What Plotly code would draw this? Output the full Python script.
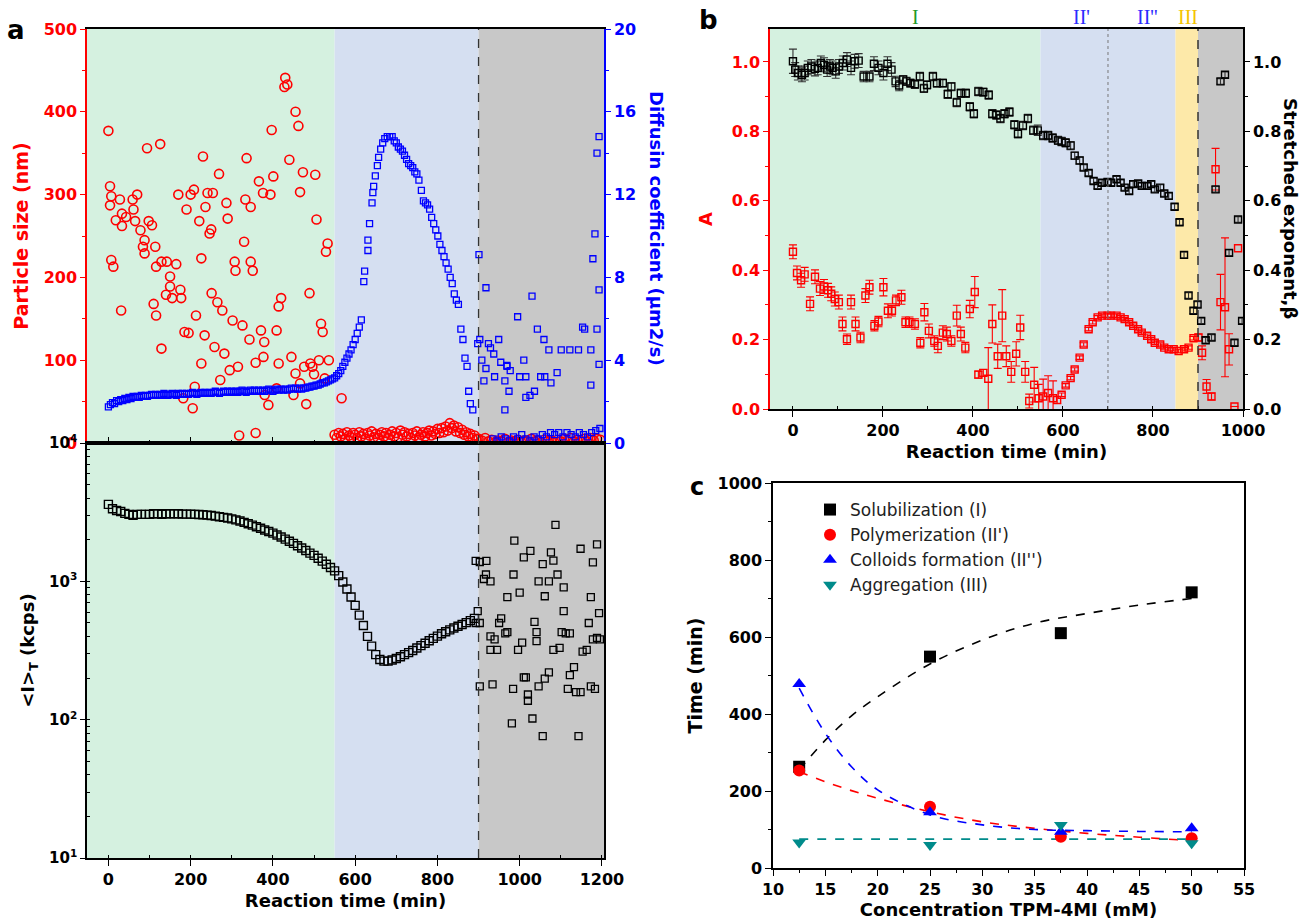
import numpy as np
import plotly.graph_objects as go

W, H = 1311, 922
FONT = "DejaVu Sans"
RED, BLUE = "#ff0000", "#0000ff"

# ---------------- Panel a (top): particle size (nm) ----------------
PS_T = [0, 4, 7, 4, 28, 33, 18, 43, 33, 7, 12, 31, 59, 61, 70, 65, 78, 84, 88, 94, 98, 106, 88, 114, 126, 116, 129, 142,
        165, 150, 150, 140, 155, 175, 177, 110, 116, 129, 170, 190, 185, 195, 182, 205, 208, 221, 226, 213, 230, 236, 241,
        254, 246, 251, 265, 269, 277, 226, 234, 258, 272, 282, 287, 290, 295, 302, 307, 309, 315, 318, 326, 330, 336, 333,
        343, 346, 351, 346, 358, 358, 366, 371, 376, 377, 379, 394, 397, 401, 389, 409, 414, 420, 414, 409, 430, 435, 428,
        455, 462, 440, 466, 473, 503, 506, 445, 455, 466, 481, 476, 491, 496, 512, 489, 517, 521, 529, 533, 536, 526, 450,
        567, 210, 380, 500, 250, 200]
PS_V = [377, 310, 298, 287, 294, 277, 269, 273, 262, 221, 213, 160, 294, 282, 300, 268, 257, 237, 245, 356, 268, 263, 229,
        237, 361, 213, 219, 219, 216, 201, 189, 179, 175, 185, 175, 168, 154, 114, 300, 282, 134, 133, 54, 42, 306, 268,
        223, 154, 346, 285, 302, 302, 253, 181, 170, 325, 160, 96, 130, 116, 76, 108, 290, 271, 88, 148, 219, 208, 92, 9,
        142, 243, 344, 294, 125, 219, 208, 285, 97, 12, 316, 136, 302, 104, 122, 300, 378, 322, 46, 136, 165, 175, 96, 66,
        441, 433, 430, 400, 383, 342, 303, 327, 324, 270, 104, 84, 72, 47, 92, 96, 92, 100, 181, 144, 134, 231, 241, 100,
        78, 58, 54, 68, 58, 83, 258, 300]
PS2_T = np.arange(550, 900, 5)
PS2_V = [10, 6, 12, 8, 11, 5, 13, 9, 7, 12, 10, 6, 13, 8, 11, 5, 12, 9, 14, 7, 11, 6, 10, 13, 8, 12, 6, 10, 14, 8, 12, 7,
         15, 10, 13, 8, 11, 6, 12, 9, 14, 7, 10, 13, 8, 12, 15, 9, 14, 11, 17, 12, 18, 13, 20, 15, 24, 18, 21, 14, 19, 12,
         16, 10, 13, 8, 11, 6, 9, 5]
PS3_T = np.arange(900, 1200, 8)
PS3_V = [5, 3, 6, 2, 4, 1, 3, 2, 5, 1, 3, 2, 4, 1, 3, 2, 5, 2, 3, 1, 4, 2, 3, 1, 4, 2, 5, 3, 6, 2, 4, 3, 5, 2, 6, 3, 5, 4]

# ---------------- Panel a (top): diffusion coefficient ----------------
D1_T = np.arange(0, 550, 5)
D1_V = [1.75, 1.85, 1.95, 1.9, 2.05, 2.0, 2.1, 2.05, 2.15, 2.1, 2.2, 2.15, 2.25, 2.2, 2.25, 2.2, 2.3, 2.25, 2.3, 2.25,
        2.3, 2.35, 2.3, 2.35, 2.3, 2.35, 2.3, 2.4, 2.35, 2.3, 2.35, 2.4, 2.35, 2.3, 2.4, 2.35, 2.4, 2.35, 2.4, 2.35,
        2.4, 2.45, 2.4, 2.35, 2.4, 2.45, 2.4, 2.45, 2.4, 2.45, 2.4, 2.45, 2.5, 2.45, 2.4, 2.45, 2.5, 2.45, 2.5, 2.45,
        2.5, 2.45, 2.5, 2.45, 2.5, 2.55, 2.5, 2.45, 2.5, 2.55, 2.5, 2.55, 2.5, 2.55, 2.5, 2.55, 2.5, 2.55, 2.6, 2.55,
        2.5, 2.55, 2.6, 2.55, 2.6, 2.55, 2.6, 2.55, 2.6, 2.65, 2.6, 2.65, 2.6, 2.65, 2.6, 2.65, 2.65, 2.7, 2.7, 2.75,
        2.75, 2.8, 2.8, 2.85, 2.9, 2.9, 2.95, 3.0, 3.05, 3.1]
D2_T = [550, 555, 560, 565, 570, 575, 580, 585, 590, 595, 600, 605, 610, 615,
        621, 623, 631, 631, 635, 641, 643, 645, 649, 654, 657, 662, 667, 672, 678, 684, 690, 695, 700, 705, 710, 715,
        720, 725, 730, 735, 740, 745, 750, 755, 761, 766, 771, 776, 781, 786, 791, 796, 801, 806, 811, 816, 821, 826,
        831, 836, 841, 846, 851, 857, 862, 867, 872, 876, 880, 886]
D2_V = [3.15, 3.25, 3.35, 3.5, 3.7, 3.9, 4.1, 4.3, 4.5, 4.75, 5.0, 5.3, 5.6, 5.95,
        7.8, 8.3, 9.3, 9.8, 10.6, 11.6, 12.1, 12.4, 12.9, 13.4, 13.8, 14.2, 14.5, 14.7, 14.8, 14.8, 14.8, 14.6, 14.5,
        14.3, 14.2, 14.1, 13.9, 13.7, 13.5, 13.4, 13.3, 13.1, 13.0, 12.7, 12.2, 11.7, 11.6, 11.5, 11.3, 10.9, 10.6,
        10.3, 10.0, 9.6, 9.3, 9.0, 8.7, 8.4, 8.0, 7.7, 7.2, 6.9, 6.7, 5.5, 5.0, 4.1, 3.7, 2.5, 1.9, 1.6]
D3_T = [901, 918, 995, 1030, 1043, 1059, 1071, 1178, 1183, 1188, 1188, 1193, 1193, 898, 903, 924, 929, 937, 949, 954,
        969, 977, 918, 913, 939, 964, 974, 964, 1010, 1000, 1015, 1015, 1025, 1036, 1051, 1061, 1076, 1091, 1101, 1122,
        1143, 1153, 1158, 1173, 1173, 1193, 908, 969]
D3_V = [9.1, 7.5, 6.1, 7.1, 5.5, 5.0, 4.5, 8.9, 10.1, 5.5, 14.0, 14.8, 7.4, 4.8, 5.0, 4.8, 4.6, 4.3, 5.0, 3.9, 3.7,
        3.5, 3.6, 3.0, 3.2, 3.0, 2.5, 1.6, 4.0, 3.2, 3.2, 2.2, 2.3, 2.5, 3.2, 3.2, 2.9, 3.4, 4.5, 4.5, 4.5, 5.6, 5.5,
        4.5, 2.8, 3.8, 4.0, 3.75]
D4_T = np.arange(935, 1200, 10)
D4_V = [0.2, 0.1, 0.3, 0.2, 0.1, 0.3, 0.2, 0.4, 0.2, 0.1, 0.3, 0.2, 0.4, 0.3, 0.5, 0.4, 0.5, 0.3, 0.5, 0.4, 0.3, 0.5,
        0.4, 0.3, 0.5, 0.6, 0.7]

# ---------------- Panel a (bottom): <I>_T (kcps) ----------------
I1_T = np.arange(0, 900, 10)
I1_V = [3600, 3350, 3250, 3200, 3100, 3050, 3000, 3050, 3050, 3050, 3050, 3080, 3080, 3050, 3080, 3080, 3080, 3080,
        3060, 3060, 3060, 3050, 3040, 3030, 3010, 2990, 2960, 2930, 2900, 2870, 2830, 2780, 2730, 2670, 2610, 2550,
        2480, 2420, 2350, 2290, 2230, 2160, 2090, 2020, 1950, 1880, 1810, 1740, 1670, 1600, 1540, 1470, 1400, 1330,
        1260, 1190, 1100, 990, 880, 770, 670, 570, 480, 400, 340, 295, 272, 265, 265, 270, 277, 285, 295, 305, 316,
        330, 343, 357, 372, 387, 402, 418, 432, 446, 460, 474, 488, 503, 520, 540]
I2_T = [893, 903, 919, 913, 929, 918, 898, 893, 903, 929, 939, 929, 945, 950, 955, 965, 970, 903, 934, 987, 985, 970,
        1000, 1010, 1026, 996, 1006, 1010, 1015, 1020, 1020, 984, 981, 1031, 1036, 1041, 1041, 1046, 1056, 1061, 1061,
        1046, 1056, 1071, 1071, 1076, 1082, 1087, 1092, 1082, 1097, 1107, 1102, 1107, 1112, 1122, 1117, 1122, 1132,
        1137, 1148, 1148, 1143, 1153, 1163, 1168, 1173, 1178, 1173, 1183, 1188, 1188, 1193, 1195, 1178]
I2_V = [1407, 1380, 1407, 1040, 1000, 1120, 610, 500, 500, 400, 380, 320, 320, 500, 540, 420, 430, 174, 180, 1970,
        1120, 770, 830, 1490, 1660, 320, 360, 202, 202, 152, 137, 167, 94, 102, 510, 430, 370, 1000, 1330, 780, 198,
        174, 76, 220, 1000, 1620, 1410, 2560, 1120, 320, 330, 610, 430, 905, 420, 420, 167, 210, 240, 158, 158, 1720,
        76, 310, 320, 500, 770, 1370, 174, 167, 1850, 390, 590, 380, 380]
LOG_TICKS = [10, 100, 1000, 10000]
LOG_LABELS = ["10<sup>1</sup>", "10<sup>2</sup>", "10<sup>3</sup>", "10<sup>4</sup>"]

# ---------------- Panel b ----------------
B_T = [0, 5, 11, 20, 26, 33, 41, 49, 55, 62, 69, 76, 82, 88, 95, 102, 111, 120, 129, 137, 146, 157, 170, 180, 190, 201,
       210, 219, 228, 236, 245, 252, 261, 271, 282, 291, 298, 311, 320, 333, 344, 352, 364, 373, 384, 393, 402, 412,
       423, 435, 443, 452, 461, 470, 481, 492, 500, 511, 522, 534, 544, 556, 567, 577, 589, 597, 606, 617, 626, 637,
       646, 657, 668, 677, 687, 699, 707, 719, 728, 737, 747, 756, 767, 775, 787, 796, 804, 816, 825, 835, 848, 859,
       869, 879, 890, 899, 907, 917, 930, 939, 950, 960, 969, 981, 989, 998]
BETA = [1.002, .978, .968, .963, .968, .983, .987, .980, .983, .997, .992, .978, .987, .983, .973, .987, .997, 1.007,
        .983, 1.002, 1.004, .958, .958, .995, .983, .968, .995, .978, .944, .932, .949, .944, .939, .936, .958, .924,
        .934, .958, .939, .939, .907, .929, .883, .910, .910, .871, .851, .915, .913, .905, .851, .847, .837, .851,
        .856, .819, .793, .817, .837, .803, .803, .788, .788, .781, .774, .771, .767, .759, .730, .716, .696, .680,
        .657, .643, .652, .654, .652, .662, .652, .638, .628, .648, .650, .643, .643, .648, .633, .638, .621, .614,
        .583, .538, .444, .327, .283, .301, .254, .198, .206, .633, .944, .963, .450, .191, .546, .254]
BETA_ERR = [.035] + [.02] * 20 + [.015, .015] + [.02] * 5 + [.015, .015] + [.012] * 30 + [.015] + [.012] * 7 + \
           [.01, .01] + [.008] * 36 + [.02, .02, .05, .08, .2, .06, .02, .04, .03]
A_T = [0, 9, 18, 26, 38, 49, 60, 69, 78, 85, 93, 102, 110, 120, 129, 139, 150, 161, 170, 181, 190, 201, 211, 220, 229,
       241, 250, 259, 271, 283, 292, 302, 314, 322, 333, 342, 352, 364, 373, 383, 393, 404, 412, 423, 434, 443, 455,
       465, 474, 485, 496, 505, 516, 525, 536, 546, 556, 567, 578, 587, 597, 606, 617, 626, 637, 646, 657, 666, 677,
       687, 699, 707, 719, 728, 737, 747, 756, 767, 775, 787, 796, 804, 816, 825, 835, 846, 857, 869, 879, 890, 901,
       909, 919, 930, 939, 950, 960, 969, 981, 989]
A_V = [.453, .392, .371, .388, .303, .381, .347, .353, .342, .332, .317, .308, .245, .201, .308, .245, .206, .327, .351,
       .240, .252, .351, .283, .283, .313, .322, .250, .250, .245, .191, .279, .225, .196, .182, .220, .216, .196, .269,
       .216, .177, .288, .337, .099, .104, .087, .245, .152, .269, .152, .107, .159, .235, .107, .023, .070, .031, .036,
       .046, .031, .026, .041, .068, .089, .114, .148, .186, .230, .250, .264, .269, .269, .269, .269, .264, .259, .250,
       .240, .230, .220, .211, .201, .191, .186, .177, .172, .172, .167, .172, .177, .204, .206, .162, .065, .036, .691,
       .308, .293, .172, .007, .463]
A_ERR = [.02] * 13 + [.015, .02, .02, .015, .02, .02, .015, .015, .025, .02, .015, .015, .02, .015, .015, .015, .015,
         .025, .02, .015, .02, .02, .02, .015, .03, .02, .015, .025, .045, .01, .01, .09, .055, .035, .075, .03, .03,
         .035, .035, .03, .02, .05, .04, .05, .05, .05, .01] + [.005] * 30 + [.01, .02, .02, .01, .06, .08, .2, .045, .0]
PHASES = [("I", 272, "#1f9a2a"), ("II'", 641, "#2b2bff"), ("II''", 787, "#2b2bff"), ("III", 877, "#f5c400")]

# ---------------- Panel c ----------------
CONC = [12.5, 25, 37.5, 50]
SOLUB = [263, 549, 610, 716]
POLYM = [253, 159, 81, 77]
COLL = [478, 145, 94, 103]
AGGR = [66, 60, 112, 64]
FIT_X = [12.5, 15, 17.5, 20, 25, 30, 35, 40, 45, 50]
FIT_SOLUB = [255, 332, 395, 445, 530, 592, 636, 661, 683, 700]
FIT_POLYM = [250, 224, 201, 181, 146, 120, 103, 90, 80, 71]
FIT_COLL = [467, 350, 263, 203, 138, 112, 100, 97, 95, 94]
FIT_AGGR = [75, 75, 75, 75, 75, 75, 75, 75, 75, 75]
LEG_NAMES = ["Solubilization (I)", "Polymerization (II')", "Colloids formation (II'')", "Aggregation (III)"]


def dxr(a, b):
    return [a / W, b / W]


def dyr(top, bottom):
    return [1 - bottom / H, 1 - top / H]


fig = go.Figure()

open_circle = dict(symbol="circle-open", size=9, color=RED, line=dict(width=1.6, color=RED))
blue_sq = dict(symbol="square-open", size=6, color=BLUE, line=dict(width=1.3, color=BLUE))

for xs, ys in [(PS_T, PS_V), (PS2_T, PS2_V), (PS3_T, PS3_V)]:
    fig.add_trace(go.Scatter(x=xs, y=ys, mode="markers", marker=open_circle, xaxis="x", yaxis="y",
                             showlegend=False))
for xs, ys in [(D1_T, D1_V), (D2_T, D2_V), (D3_T, D3_V), (D4_T, D4_V)]:
    fig.add_trace(go.Scatter(x=xs, y=ys, mode="markers", marker=blue_sq, xaxis="x", yaxis="y2",
                             showlegend=False))

blk_sq = dict(symbol="square-open", size=8, color="black", line=dict(width=1.4, color="black"))
fig.add_trace(go.Scatter(x=I1_T, y=I1_V, mode="markers", marker=blk_sq, xaxis="x2", yaxis="y3", showlegend=False))
fig.add_trace(go.Scatter(x=I2_T, y=I2_V, mode="markers", xaxis="x2", yaxis="y3", showlegend=False,
                         marker=dict(symbol="square-open", size=7, color="black", line=dict(width=1.3, color="black"))))

fig.add_trace(go.Scatter(x=A_T, y=A_V, mode="markers", xaxis="x3", yaxis="y4", showlegend=False,
                         marker=dict(symbol="square-open", size=7, color=RED, line=dict(width=1.4, color=RED)),
                         error_y=dict(type="data", array=A_ERR, color=RED, thickness=1.1, width=4)))
fig.add_trace(go.Scatter(x=B_T, y=BETA, mode="markers", xaxis="x3", yaxis="y5", showlegend=False,
                         marker=dict(symbol="square-open", size=7, color="black",
                                     line=dict(width=1.4, color="black")),
                         error_y=dict(type="data", array=BETA_ERR, color="#333333", thickness=1.1, width=4)))

c_cols = ["black", RED, BLUE, "#008b8b"]
c_syms = ["square", "circle", "triangle-up", "triangle-down"]
for fy, col in zip([FIT_SOLUB, FIT_POLYM, FIT_COLL, FIT_AGGR], c_cols):
    fig.add_trace(go.Scatter(x=FIT_X, y=fy, mode="lines", xaxis="x4", yaxis="y6", showlegend=False,
                             line=dict(color=col, width=1.6, dash="dash", shape="spline")))
for vals, col, sym, nm in zip([SOLUB, POLYM, COLL, AGGR], c_cols, c_syms, LEG_NAMES):
    fig.add_trace(go.Scatter(x=CONC, y=vals, mode="markers", xaxis="x4", yaxis="y6", name=nm,
                             marker=dict(symbol=sym, size=12, color=col)))

GREEN_BG, BLUE_BG, GRAY_BG, YEL_BG = "#d5f1e0", "#d5dff1", "#c8c8c8", "#fde9a9"
shapes = []
for xr, yr in [("x", "y domain"), ("x2", "y3 domain")]:
    for x0, x1, c in [(-52, 550, GREEN_BG), (550, 900, BLUE_BG), (900, 1205, GRAY_BG)]:
        shapes.append(dict(type="rect", xref=xr, yref=yr, x0=x0, x1=x1, y0=0, y1=1, fillcolor=c,
                           line=dict(width=0), layer="below"))
for x0, x1, c in [(-51, 550, GREEN_BG), (550, 850, BLUE_BG), (850, 900, YEL_BG), (900, 1000, GRAY_BG)]:
    shapes.append(dict(type="rect", xref="x3", yref="y4 domain", x0=x0, x1=x1, y0=0, y1=1, fillcolor=c,
                       line=dict(width=0), layer="below"))
shapes.append(dict(type="line", xref="x", yref="paper", x0=900, x1=900, y0=1 - 858 / H, y1=1 - 29 / H,
                   line=dict(color="#333333", width=1.3, dash="dash")))
shapes.append(dict(type="line", xref="x3", yref="y4 domain", x0=900, x1=900, y0=0, y1=1,
                   line=dict(color="#333333", width=1.5, dash="dash")))
shapes.append(dict(type="line", xref="x3", yref="y4 domain", x0=700, x1=700, y0=0, y1=1,
                   line=dict(color="#777777", width=1, dash="dot")))


def tf(color="black", size=15):
    return dict(family=FONT, size=size, color=color, weight="bold")


common = dict(showgrid=False, zeroline=False, automargin=False, showline=True, linewidth=1.5)

layout = dict(
    width=W, height=H, margin=dict(l=0, r=0, t=0, b=0),
    paper_bgcolor="white", plot_bgcolor="rgba(0,0,0,0)",
    shapes=shapes,
    xaxis=dict(domain=dxr(87, 604), anchor="y", range=[-52, 1205], linecolor="black", mirror=True,
               ticks="inside", ticklen=6, tickcolor="black", dtick=200, tick0=0, showticklabels=False,
               minor=dict(ticks="inside", ticklen=3, dtick=100, tick0=0), **common),
    yaxis=dict(domain=dyr(29, 443), anchor="x", range=[0, 500], dtick=100, linecolor=RED, tickcolor=RED,
               ticks="outside", ticklen=5, tickfont=tf(RED, 16),
               minor=dict(ticks="outside", ticklen=3, dtick=50, tickcolor=RED),
               title=dict(text="Particle size (nm)", font=tf(RED, 19), standoff=10), **common),
    yaxis2=dict(overlaying="y", anchor="x", side="right", range=[0, 20], dtick=4, linecolor=BLUE, tickcolor=BLUE,
                ticks="outside", ticklen=5, tickfont=tf(BLUE, 16),
                minor=dict(ticks="outside", ticklen=3, dtick=2, tickcolor=BLUE), **common),
    xaxis2=dict(domain=dxr(87, 604), anchor="y3", range=[-52, 1205], linecolor="black", mirror=True,
                ticks="outside", ticklen=6, tickcolor="black", dtick=200, tick0=0, tickfont=tf(size=16),
                minor=dict(ticks="inside", ticklen=3, dtick=100, tick0=0),
                title=dict(text="Reaction time (min)", font=tf(size=18), standoff=6), **common),
    yaxis3=dict(domain=dyr(443, 858), anchor="x2", type="log", range=[1, 4], tickvals=LOG_TICKS,
                ticktext=LOG_LABELS, linecolor="black", mirror=True, ticks="outside", ticklen=5,
                tickcolor="black", tickfont=tf(size=15),
                minor=dict(ticks="inside", ticklen=3, dtick="D1", tickcolor="black"),
                title=dict(text="&lt;I&gt;<sub>T</sub> (kcps)", font=tf(size=18), standoff=10), **common),
    xaxis3=dict(domain=dxr(770, 1243), anchor="y4", range=[-51, 1000], linecolor="black", mirror=True,
                ticks="outside", ticklen=6, tickcolor="black", dtick=200, tick0=0, tickfont=tf(size=16),
                minor=dict(ticks="inside", ticklen=3, dtick=100, tick0=0),
                title=dict(text="Reaction time (min)", font=tf(size=18), standoff=6), **common),
    yaxis4=dict(domain=dyr(29, 409), anchor="x3", range=[0, 1.095], dtick=0.2, tickformat=".1f", linecolor=RED,
                tickcolor=RED, ticks="outside", ticklen=5, tickfont=tf(RED, 16),
                minor=dict(ticks="outside", ticklen=3, dtick=0.1, tickcolor=RED),
                title=dict(text="A", font=tf(RED, 18), standoff=14), **common),
    yaxis5=dict(overlaying="y4", anchor="x3", side="right", range=[0, 1.095], dtick=0.2, tickformat=".1f",
                linecolor="black", tickcolor="black", ticks="outside", ticklen=5, tickfont=tf(size=16),
                minor=dict(ticks="outside", ticklen=3, dtick=0.1, tickcolor="black"), **common),
    xaxis4=dict(domain=dxr(773, 1244), anchor="y6", range=[10, 55], dtick=5, tick0=10, linecolor="black",
                mirror=True, ticks="outside", ticklen=6, tickcolor="black", tickfont=tf(size=16),
                minor=dict(ticks="outside", ticklen=3, dtick=2.5, tick0=10),
                title=dict(text="Concentration TPM-4MI (mM)", font=tf(size=18), standoff=4), **common),
    yaxis6=dict(domain=dyr(483, 868), anchor="x4", range=[0, 1000], dtick=200, linecolor="black", mirror=True,
                ticks="outside", ticklen=6, tickcolor="black", tickfont=tf(size=16),
                minor=dict(ticks="outside", ticklen=3, dtick=100),
                title=dict(text="Time (min)", font=tf(size=19), standoff=10), **common),
    legend=dict(x=810 / W, y=1 - 492 / H, xanchor="left", yanchor="top", bgcolor="rgba(0,0,0,0)",
                font=dict(family=FONT, size=17, color="#222222"), tracegroupgap=0, itemwidth=30),
)
fig.update_layout(**layout)

ann = [
    dict(text="a", x=16 / W, y=1 - 30 / H, xref="paper", yref="paper", showarrow=False, xanchor="center",
         yanchor="middle", font=dict(family=FONT, size=26, color="black", weight="bold")),
    dict(text="b", x=708 / W, y=1 - 20 / H, xref="paper", yref="paper", showarrow=False, xanchor="center",
         yanchor="middle", font=dict(family=FONT, size=26, color="black", weight="bold")),
    dict(text="c", x=697 / W, y=1 - 487 / H, xref="paper", yref="paper", showarrow=False, xanchor="center",
         yanchor="middle", font=dict(family=FONT, size=24, color="black", weight="bold")),
    dict(text="Diffusin coefficient (μm2/s)", x=657 / W, y=1 - 228 / H, xref="paper", yref="paper",
         showarrow=False, textangle=90, xanchor="center", yanchor="middle", font=tf(BLUE, 18)),
    dict(text="Stretched exponent,β", x=1291 / W, y=1 - 208 / H, xref="paper", yref="paper",
         showarrow=False, textangle=90, xanchor="center", yanchor="middle", font=tf(size=18)),
]
for txt, xv, col in PHASES:
    ann.append(dict(text=txt, x=xv, y=1 - 17 / H, xref="x3", yref="paper", showarrow=False, xanchor="center",
                    yanchor="middle", font=dict(family="Liberation Serif", size=20, color=col)))
fig.update_layout(annotations=ann)

fig.write_html("out.html", config={"displayModeBar": False},
               post_script="document.body.style.margin='0px';")
